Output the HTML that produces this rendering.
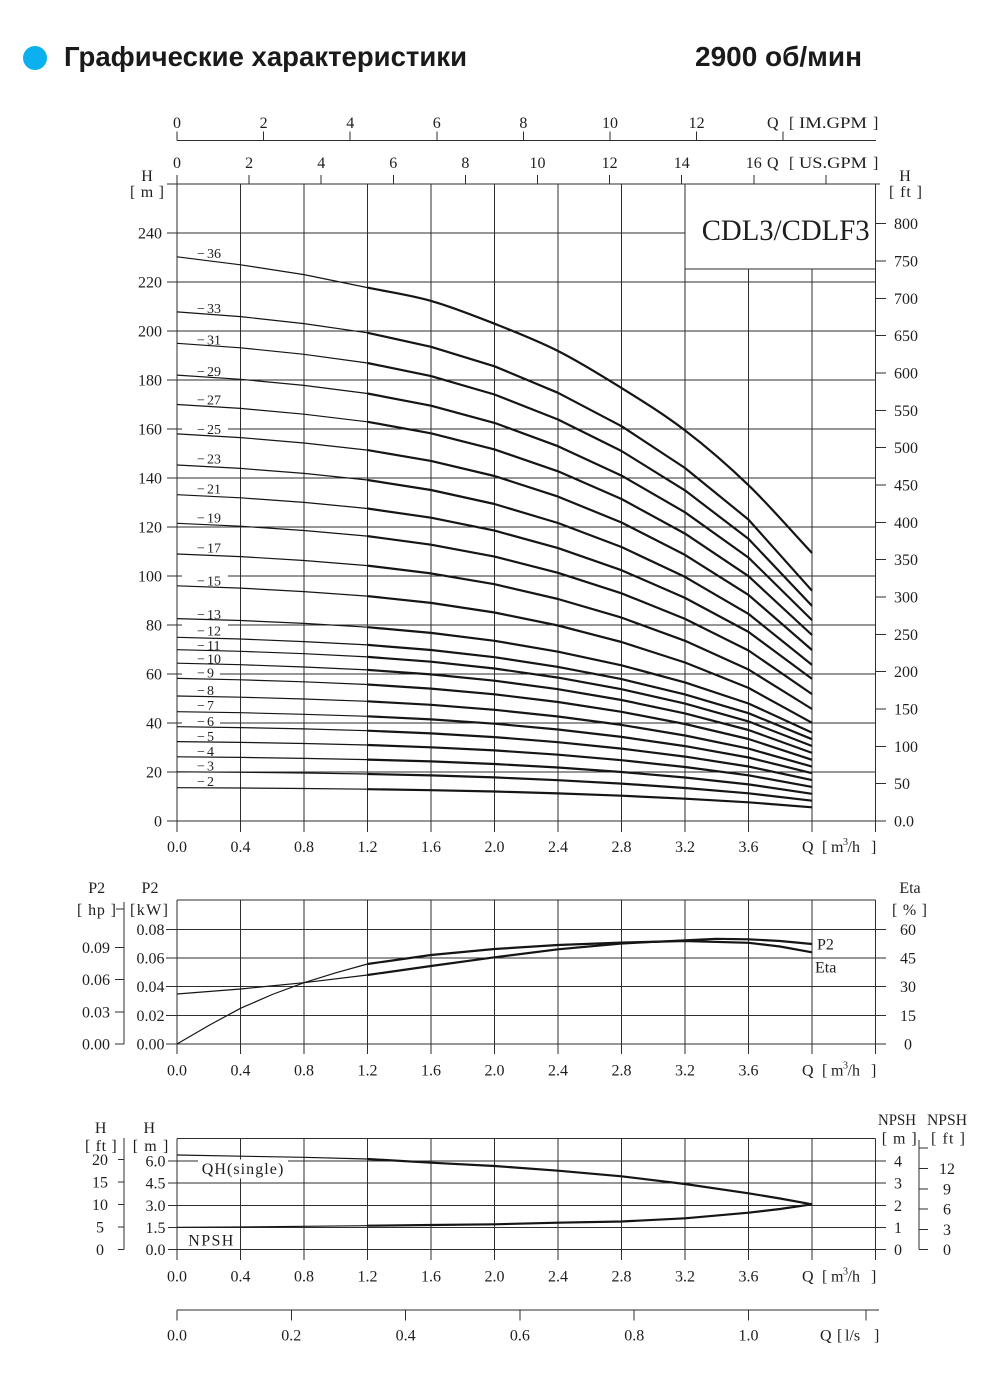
<!DOCTYPE html>
<html><head><meta charset="utf-8">
<style>
html,body{margin:0;padding:0;background:#fff;}
svg{display:block;}
.t{font-family:"Liberation Serif","DejaVu Serif",serif;fill:#1e1e1e;font-size:16px;}
.s{font-size:14px;}
.g{stroke:#2e2e2e;stroke-width:1;fill:none;shape-rendering:crispEdges;}
.c1{stroke:#151515;stroke-width:1.2;fill:none;stroke-linejoin:round;}
.c2{stroke:#151515;stroke-width:2.2;fill:none;stroke-linejoin:round;}
</style></head><body>
<svg width="993" height="1375" viewBox="0 0 993 1375" xmlns="http://www.w3.org/2000/svg">
<rect width="993" height="1375" fill="#fff"/>
<!-- header -->
<circle cx="35" cy="58" r="12" fill="#0db0ee"/>
<text x="64" y="66" font-family="Liberation Sans, Arial, sans-serif" font-weight="bold" font-size="28" textLength="403" lengthAdjust="spacingAndGlyphs" fill="#1a1a1a">Графические характеристики</text>
<text x="695" y="66" font-family="Liberation Sans, Arial, sans-serif" font-weight="bold" font-size="28" textLength="167" lengthAdjust="spacingAndGlyphs" fill="#1a1a1a">2900 об/мин</text>

<!-- top axes -->
<path class="g" d="M177 140.5H876 M177 131.5V140.5 M263.6 131.5V140.5 M350.2 131.5V140.5 M436.8 131.5V140.5 M523.4 131.5V140.5 M610 131.5V140.5 M696.6 131.5V140.5 M783.2 131.5V140.5"/>
<path class="g" d="M177 175V184 M249.1 175V184 M321.2 175V184 M393.3 175V184 M465.4 175V184 M537.5 175V184 M609.6 175V184 M681.7 175V184 M753.8 175V184 M825.9 175V184"/>
<g class="t" text-anchor="middle">
<text x="177" y="128">0</text><text x="263.6" y="128">2</text><text x="350.2" y="128">4</text><text x="436.8" y="128">6</text><text x="523.4" y="128">8</text><text x="610" y="128">10</text><text x="696.6" y="128">12</text>
<text x="177" y="168">0</text><text x="249.1" y="168">2</text><text x="321.2" y="168">4</text><text x="393.3" y="168">6</text><text x="465.4" y="168">8</text><text x="537.5" y="168">10</text><text x="609.6" y="168">12</text><text x="681.7" y="168">14</text><text x="753.8" y="168">16</text>
</g>
<g class="t">
<text x="767" y="128">Q</text><text x="789" y="128">[</text><text x="799" y="128" textLength="68" lengthAdjust="spacingAndGlyphs">IM.GPM</text><text x="873" y="128">]</text>
<text x="767" y="168">Q</text><text x="789" y="168">[</text><text x="799" y="168" textLength="68" lengthAdjust="spacingAndGlyphs">US.GPM</text><text x="873" y="168">]</text>
</g>

<!-- MAIN CHART GRID -->
<path class="g" d="M167 184H880 M167 233H685 M167 282H875.5 M167 331H875.5 M167 380H875.5 M167 429H875.5 M167 478H875.5 M167 527H875.5 M167 576H875.5 M167 625H875.5 M167 674H875.5 M167 723H875.5 M167 772H875.5 M167 821H875.5"/>
<path class="g" d="M177 184V832 M240.5 184V832 M304 184V832 M367.5 184V832 M431 184V832 M494.5 184V832 M558 184V832 M621.5 184V832 M685 184V832 M748.5 269V832 M812 269V832 M875.5 184V832 M685 269H875.5"/>
<path class="g" d="M875.5 821H886 M875.5 783.7H886 M875.5 746.3H886 M875.5 709H886 M875.5 671.6H886 M875.5 634.3H886 M875.5 597H886 M875.5 559.6H886 M875.5 522.3H886 M875.5 485H886 M875.5 447.6H886 M875.5 410.3H886 M875.5 372.9H886 M875.5 335.6H886 M875.5 298.3H886 M875.5 260.9H886 M875.5 223.6H886"/>
<text x="701.7" y="240" style="font-family:'Liberation Serif',serif;font-size:30px;fill:#1e1e1e" textLength="168" lengthAdjust="spacingAndGlyphs">CDL3/CDLF3</text>

<!-- label backgrounds -->
<g fill="#fff">
<rect x="182" y="246.5" width="46" height="14"/><rect x="182" y="301.5" width="46" height="14"/><rect x="182" y="332.8" width="46" height="14"/><rect x="182" y="364.5" width="46" height="14"/><rect x="182" y="393" width="46" height="14"/><rect x="182" y="422.5" width="46" height="14"/><rect x="182" y="452" width="46" height="14"/><rect x="182" y="482" width="46" height="14"/><rect x="182" y="511.2" width="46" height="14"/><rect x="182" y="541.2" width="46" height="14"/><rect x="182" y="574.2" width="46" height="14"/><rect x="182" y="607.5" width="46" height="14"/><rect x="182" y="624" width="46" height="14"/><rect x="182" y="638.5" width="46" height="14"/><rect x="182" y="651.8" width="46" height="14"/><rect x="182" y="665.8" width="38" height="14"/><rect x="182" y="683.5" width="38" height="14"/><rect x="182" y="698.5" width="38" height="14"/><rect x="182" y="714.5" width="38" height="14"/><rect x="182" y="729.5" width="38" height="14"/><rect x="182" y="744.5" width="38" height="14"/><rect x="182" y="759.2" width="38" height="12.5"/><rect x="182" y="774.5" width="38" height="12.5"/>
</g>

<!-- main curves thin -->
<g class="c1">
<path d="M177 256.8L240.5 264.8L304 274.6L367.5 287.6"/>
<path d="M177 311.9L240.5 316.6L304 323.6L367.5 332.8"/>
<path d="M177 343.3L240.5 347.8L304 354.3L367.5 363"/>
<path d="M177 375.1L240.5 379.3L304 385.4L367.5 393.5"/>
<path d="M177 404.5L240.5 408.4L304 414.2L367.5 421.8"/>
<path d="M177 433.9L240.5 437.6L304 443L367.5 450.1"/>
<path d="M177 465L240.5 468.4L304 473.4L367.5 480"/>
<path d="M177 494.7L240.5 497.8L304 502.4L367.5 508.5"/>
<path d="M177 523.3L240.5 526.2L304 530.5L367.5 536.1"/>
<path d="M177 554L240.5 556.6L304 560.5L367.5 565.6"/>
<path d="M177 585.8L240.5 588.1L304 591.6L367.5 596.1"/>
<path d="M177 618.6L240.5 620.5L304 623.4L367.5 627.2"/>
<path d="M177 637.3L240.5 639L304 641.6L367.5 644.9"/>
<path d="M177 649.7L240.5 651.3L304 653.7L367.5 656.9"/>
<path d="M177 663.2L240.5 664.7L304 667L367.5 669.9"/>
<path d="M177 678.4L240.5 679.8L304 681.8L367.5 684.5"/>
<path d="M177 696L240.5 697.2L304 699L367.5 701.3"/>
<path d="M177 711.7L240.5 712.7L304 714.3L367.5 716.3"/>
<path d="M177 726.7L240.5 727.6L304 728.9L367.5 730.7"/>
<path d="M177 741.6L240.5 742.4L304 743.5L367.5 745"/>
<path d="M177 756.8L240.5 757.4L304 758.4L367.5 759.6"/>
<path d="M177 771.8L240.5 772.3L304 773L367.5 774"/>
<path d="M177 787.7L240.5 788L304 788.5L367.5 789.2"/>
</g>
<!-- main curves thick -->
<g class="c2">
<path d="M367.5 287.6 C388.7 292 409.8 294.9 431 300.9 C452.2 306.9 473.3 315.4 494.5 323.7 C515.7 332.1 536.8 340.3 558 351 C579.2 361.7 600.3 374.8 621.5 388 C642.7 401.2 663.8 414.2 685 430.4 C706.2 446.6 727.3 464.8 748.5 485.2 C769.7 505.6 790.8 530.4 812 553"/>
<path d="M367.5 332.8L431 346.8L494.5 366.3L558 392.8L621.5 426.2L685 468L748.5 519.6L812 590.7"/>
<path d="M367.5 363L431 376.1L494.5 394.5L558 419.5L621.5 451L685 490.4L748.5 538.9L812 605.9"/>
<path d="M367.5 393.5L431 405.7L494.5 422.9L558 446.2L621.5 475.6L685 512.3L748.5 557.6L812 620.1"/>
<path d="M367.5 421.8L431 433.3L494.5 449.4L558 471.3L621.5 499L685 533.6L748.5 576.2L812 635"/>
<path d="M367.5 450.1L431 460.9L494.5 476L558 496.6L621.5 522.5L685 554.9L748.5 594.9L812 650"/>
<path d="M367.5 480L431 490L494.5 504L558 523L621.5 547L685 576.9L748.5 613.9L812 664.9"/>
<path d="M367.5 508.5L431 517.7L494.5 530.6L558 548.1L621.5 570.2L685 597.9L748.5 631.9L812 678.9"/>
<path d="M367.5 536.1L431 544.7L494.5 556.6L558 572.8L621.5 593.3L685 618.9L748.5 650.5L812 694.1"/>
<path d="M367.5 565.6L431 573.4L494.5 584.2L558 599L621.5 617.6L685 640.8L748.5 669.5L812 709"/>
<path d="M367.5 596.1L431 602.9L494.5 612.5L558 625.5L621.5 642L685 662.5L748.5 687.9L812 722.8"/>
<path d="M367.5 627.2L431 632.9L494.5 640.8L558 651.7L621.5 665.3L685 682.4L748.5 703.5L812 732.6"/>
<path d="M367.5 644.9L431 650L494.5 657.2L558 666.9L621.5 679.1L685 694.4L748.5 713.2L812 739.2"/>
<path d="M367.5 656.9L431 661.7L494.5 668.5L558 677.6L621.5 689.2L685 703.6L748.5 721.4L812 746"/>
<path d="M367.5 669.9L431 674.4L494.5 680.7L558 689.2L621.5 700L685 713.4L748.5 730L812 752.9"/>
<path d="M367.5 684.5L431 688.6L494.5 694.3L558 702L621.5 711.8L685 724L748.5 739L812 759.8"/>
<path d="M367.5 701.3L431 704.8L494.5 709.8L558 716.5L621.5 724.9L685 735.5L748.5 748.6L812 766.6"/>
<path d="M367.5 716.3L431 719.4L494.5 723.7L558 729.5L621.5 736.9L685 746.1L748.5 757.5L812 773.2"/>
<path d="M367.5 730.7L431 733.4L494.5 737.1L558 742.2L621.5 748.6L685 756.6L748.5 766.5L812 780.1"/>
<path d="M367.5 745L431 747.3L494.5 750.4L558 754.7L621.5 760.2L685 767L748.5 775.3L812 786.9"/>
<path d="M367.5 759.6L431 761.4L494.5 764L558 767.5L621.5 772L685 777.5L748.5 784.4L812 793.8"/>
<path d="M367.5 774L431 775.4L494.5 777.4L558 780.2L621.5 783.6L685 788L748.5 793.3L812 800.7"/>
<path d="M367.5 789.2L431 790.2L494.5 791.5L558 793.4L621.5 795.7L685 798.7L748.5 802.3L812 807.3"/>
</g>
<!-- curve labels -->
<g class="t s">
<text y="258"><tspan x="197">−</tspan><tspan x="207">36</tspan></text>
<text y="313"><tspan x="197">−</tspan><tspan x="207">33</tspan></text>
<text y="344.3"><tspan x="197">−</tspan><tspan x="207">31</tspan></text>
<text y="376"><tspan x="197">−</tspan><tspan x="207">29</tspan></text>
<text y="404.5"><tspan x="197">−</tspan><tspan x="207">27</tspan></text>
<text y="434"><tspan x="197">−</tspan><tspan x="207">25</tspan></text>
<text y="463.5"><tspan x="197">−</tspan><tspan x="207">23</tspan></text>
<text y="493.5"><tspan x="197">−</tspan><tspan x="207">21</tspan></text>
<text y="522.7"><tspan x="197">−</tspan><tspan x="207">19</tspan></text>
<text y="552.7"><tspan x="197">−</tspan><tspan x="207">17</tspan></text>
<text y="585.7"><tspan x="197">−</tspan><tspan x="207">15</tspan></text>
<text y="619"><tspan x="197">−</tspan><tspan x="207">13</tspan></text>
<text y="635.5"><tspan x="197">−</tspan><tspan x="207">12</tspan></text>
<text y="650"><tspan x="197">−</tspan><tspan x="207">11</tspan></text>
<text y="663.3"><tspan x="197">−</tspan><tspan x="207">10</tspan></text>
<text y="677.3"><tspan x="197">−</tspan><tspan x="207">9</tspan></text>
<text y="695"><tspan x="197">−</tspan><tspan x="207">8</tspan></text>
<text y="710"><tspan x="197">−</tspan><tspan x="207">7</tspan></text>
<text y="726"><tspan x="197">−</tspan><tspan x="207">6</tspan></text>
<text y="741"><tspan x="197">−</tspan><tspan x="207">5</tspan></text>
<text y="756"><tspan x="197">−</tspan><tspan x="207">4</tspan></text>
<text y="770.7"><tspan x="197">−</tspan><tspan x="207">3</tspan></text>
<text y="786"><tspan x="197">−</tspan><tspan x="207">2</tspan></text>
</g>
<!-- main axis labels -->
<g class="t" text-anchor="end">
<text x="162" y="826.5">0</text><text x="162" y="777.5">20</text><text x="162" y="728.5">40</text><text x="162" y="679.5">60</text><text x="162" y="630.5">80</text><text x="162" y="581.5">100</text><text x="162" y="532.5">120</text><text x="162" y="483.5">140</text><text x="162" y="434.5">160</text><text x="162" y="385.5">180</text><text x="162" y="336.5">200</text><text x="162" y="287.5">220</text><text x="162" y="238.5">240</text>
</g>
<g class="t">
<text x="894" y="826.5">0.0</text><text x="894" y="789.2">50</text><text x="894" y="751.8">100</text><text x="894" y="714.5">150</text><text x="894" y="677.1">200</text><text x="894" y="639.8">250</text><text x="894" y="602.5">300</text><text x="894" y="565.1">350</text><text x="894" y="527.8">400</text><text x="894" y="490.5">450</text><text x="894" y="453.1">500</text><text x="894" y="415.8">550</text><text x="894" y="378.4">600</text><text x="894" y="341.1">650</text><text x="894" y="303.8">700</text><text x="894" y="266.4">750</text><text x="894" y="229.1">800</text>
<text x="147" y="181" text-anchor="middle">H</text><text x="130" y="197" textLength="34" lengthAdjust="spacing">[ m ]</text>
<text x="905" y="181" text-anchor="middle">H</text><text x="889" y="197" textLength="33" lengthAdjust="spacing">[ ft ]</text>
</g>
<g class="t" text-anchor="middle">
<text x="177" y="852">0.0</text><text x="240.5" y="852">0.4</text><text x="304" y="852">0.8</text><text x="367.5" y="852">1.2</text><text x="431" y="852">1.6</text><text x="494.5" y="852">2.0</text><text x="558" y="852">2.4</text><text x="621.5" y="852">2.8</text><text x="685" y="852">3.2</text><text x="748.5" y="852">3.6</text>
</g>
<g class="t"><text x="802" y="852">Q</text><text x="822" y="852">[</text><text x="831" y="852">m</text><text x="843" y="845" font-size="10">3</text><text x="847.5" y="852">/h</text><text x="871" y="852">]</text></g>

<!-- POWER CHART -->
<path class="g" d="M177 900H875.5 M166 929.3H886 M166 958H886 M166 986.7H886 M166 1015.3H886 M166 1044H886"/>
<path class="g" d="M177 900V1054 M240.5 900V1054 M304 900V1054 M367.5 900V1054 M431 900V1054 M494.5 900V1054 M558 900V1054 M621.5 900V1054 M685 900V1054 M748.5 900V1054 M812 900V1054 M875.5 900V1054"/>
<path class="g" d="M116 909H124 M124 902V1044 M115 1044H124 M115 1011.9H124 M115 979.7H124 M115 947.7H124"/>
<g class="c1">
<path d="M177 1044L208.75 1025.5L240.5 1008.3L272.25 994.5L304 982.7L335.75 972.8L367.5 964"/>
<path d="M177 994L240.5 989L304 982.7L367.5 975"/>
</g>
<g class="c2">
<path d="M367.5 964L431 955L494.5 949L558 945L621.5 942.6L685 941L748.5 942.8L780 946.5L812 952.3"/>
<path d="M367.5 975L431 966L494.5 957.3L558 949.3L621.5 943.5L685 940.3L716 938.8L748.5 939.3L780 941L812 944"/>
</g>
<g class="t">
<text x="817" y="949.5">P2</text><text x="815" y="972.5">Eta</text>
</g>
<g class="t" text-anchor="end">
<text x="164.5" y="934.8">0.08</text><text x="164.5" y="963.5">0.06</text><text x="164.5" y="992.2">0.04</text><text x="164.5" y="1020.8">0.02</text><text x="164.5" y="1049.5">0.00</text>
<text x="110" y="953.2">0.09</text><text x="110" y="985.2">0.06</text><text x="110" y="1017.4">0.03</text><text x="110" y="1049.5">0.00</text>
</g>
<g class="t" text-anchor="middle">
<text x="908" y="934.8">60</text><text x="908" y="963.5">45</text><text x="908" y="992.2">30</text><text x="908" y="1020.8">15</text><text x="908" y="1049.5">0</text>
<text x="96.7" y="893">P2</text><text x="150" y="893">P2</text><text x="910" y="893">Eta</text>
<text x="177" y="1075.5">0.0</text><text x="240.5" y="1075.5">0.4</text><text x="304" y="1075.5">0.8</text><text x="367.5" y="1075.5">1.2</text><text x="431" y="1075.5">1.6</text><text x="494.5" y="1075.5">2.0</text><text x="558" y="1075.5">2.4</text><text x="621.5" y="1075.5">2.8</text><text x="685" y="1075.5">3.2</text><text x="748.5" y="1075.5">3.6</text>
</g>
<g class="t">
<text x="77" y="915" textLength="39" lengthAdjust="spacing">[ hp ]</text>
<text x="130" y="915" textLength="38" lengthAdjust="spacing">[kW]</text>
<text x="892" y="915" textLength="35" lengthAdjust="spacing">[ % ]</text>
<text x="802" y="1075.5">Q</text><text x="822" y="1075.5">[</text><text x="831" y="1075.5">m</text><text x="843" y="1068.5" font-size="10">3</text><text x="847.5" y="1075.5">/h</text><text x="871" y="1075.5">]</text>
</g>

<!-- NPSH CHART -->
<path class="g" d="M177 1138.5H875.5 M168 1160.9H886 M168 1183.1H886 M168 1205.3H886 M168 1227.5H886 M168 1249.7H886"/>
<path class="g" d="M177 1138.5V1260 M240.5 1138.5V1260 M304 1138.5V1260 M367.5 1138.5V1260 M431 1138.5V1260 M494.5 1138.5V1260 M558 1138.5V1260 M621.5 1138.5V1260 M685 1138.5V1260 M748.5 1138.5V1260 M812 1138.5V1260 M875.5 1138.5V1260"/>
<path class="g" d="M124 1138V1249.7 M118 1159.5H124 M118 1182H124 M118 1204.6H124 M118 1227.1H124 M118 1249.7H124"/>
<path class="g" d="M919 1140V1249.7 M919 1148H928 M919 1168.5H928 M919 1188.8H928 M919 1209.1H928 M919 1229.4H928 M919 1249.7H928"/>
<rect x="198" y="1159.5" width="90" height="19" fill="#fff"/>
<g class="c1">
<path d="M177 1155L240.5 1156.2L304 1157.3L367.5 1159"/>
<path d="M177 1227.3L240.5 1227L304 1226.3L367.5 1225.7"/>
</g>
<g class="c2">
<path d="M367.5 1159L431 1162.7L494.5 1166L558 1170.7L621.5 1176.3L685 1184L748.5 1193.3L780 1198.5L812 1204.3"/>
<path d="M367.5 1225.7L431 1225L494.5 1224.3L558 1222.7L621.5 1221.5L685 1218.3L748.5 1212.7L780 1209L812 1204.3"/>
</g>
<g class="t">
<text x="201.7" y="1174" textLength="81.6" lengthAdjust="spacing">QH(single)</text>
<text x="188.3" y="1245.5" textLength="45" lengthAdjust="spacing">NPSH</text>
<text x="85" y="1151" textLength="31.7" lengthAdjust="spacing">[ ft ]</text>
<text x="132.7" y="1151" textLength="35.6" lengthAdjust="spacing">[ m ]</text>
<text x="878" y="1125" textLength="38" lengthAdjust="spacingAndGlyphs">NPSH</text>
<text x="881.7" y="1143.5" textLength="35" lengthAdjust="spacing">[ m ]</text>
<text x="927" y="1125" textLength="40" lengthAdjust="spacingAndGlyphs">NPSH</text>
<text x="931" y="1143.5" textLength="34" lengthAdjust="spacing">[ ft ]</text>
<text x="802" y="1281.5">Q</text><text x="822" y="1281.5">[</text><text x="831" y="1281.5">m</text><text x="843" y="1274.5" font-size="10">3</text><text x="847.5" y="1281.5">/h</text><text x="871" y="1281.5">]</text>
</g>
<g class="t" text-anchor="end">
<text x="165.5" y="1166.4">6.0</text><text x="165.5" y="1188.6">4.5</text><text x="165.5" y="1210.8">3.0</text><text x="165.5" y="1233">1.5</text><text x="165.5" y="1255.2">0.0</text>
</g>
<g class="t" text-anchor="middle">
<text x="100.7" y="1133">H</text><text x="149.3" y="1133">H</text>
<text x="100" y="1165">20</text><text x="100" y="1187.5">15</text><text x="100" y="1210.1">10</text><text x="100" y="1232.6">5</text><text x="100" y="1255.2">0</text>
<text x="898" y="1166.4">4</text><text x="898" y="1188.6">3</text><text x="898" y="1210.8">2</text><text x="898" y="1233">1</text><text x="898" y="1255.2">0</text>
<text x="947" y="1174">12</text><text x="947" y="1194.3">9</text><text x="947" y="1214.6">6</text><text x="947" y="1234.9">3</text><text x="947" y="1255.2">0</text>
<text x="177" y="1281.5">0.0</text><text x="240.5" y="1281.5">0.4</text><text x="304" y="1281.5">0.8</text><text x="367.5" y="1281.5">1.2</text><text x="431" y="1281.5">1.6</text><text x="494.5" y="1281.5">2.0</text><text x="558" y="1281.5">2.4</text><text x="621.5" y="1281.5">2.8</text><text x="685" y="1281.5">3.2</text><text x="748.5" y="1281.5">3.6</text>
</g>

<!-- l/s axis -->
<path class="g" d="M177 1310H879 M177 1310V1320.7 M291.3 1310V1320.7 M405.6 1310V1320.7 M519.9 1310V1320.7 M634.2 1310V1320.7 M748.5 1310V1320.7 M866 1310V1320.7"/>
<g class="t" text-anchor="middle">
<text x="177" y="1340.5">0.0</text><text x="291.3" y="1340.5">0.2</text><text x="405.6" y="1340.5">0.4</text><text x="519.9" y="1340.5">0.6</text><text x="634.2" y="1340.5">0.8</text><text x="748.5" y="1340.5">1.0</text>
</g>
<g class="t"><text x="820" y="1340.5">Q</text><text x="837" y="1340.5">[</text><text x="845" y="1340.5">l/s</text><text x="874" y="1340.5">]</text></g>
</svg>
</body></html>
